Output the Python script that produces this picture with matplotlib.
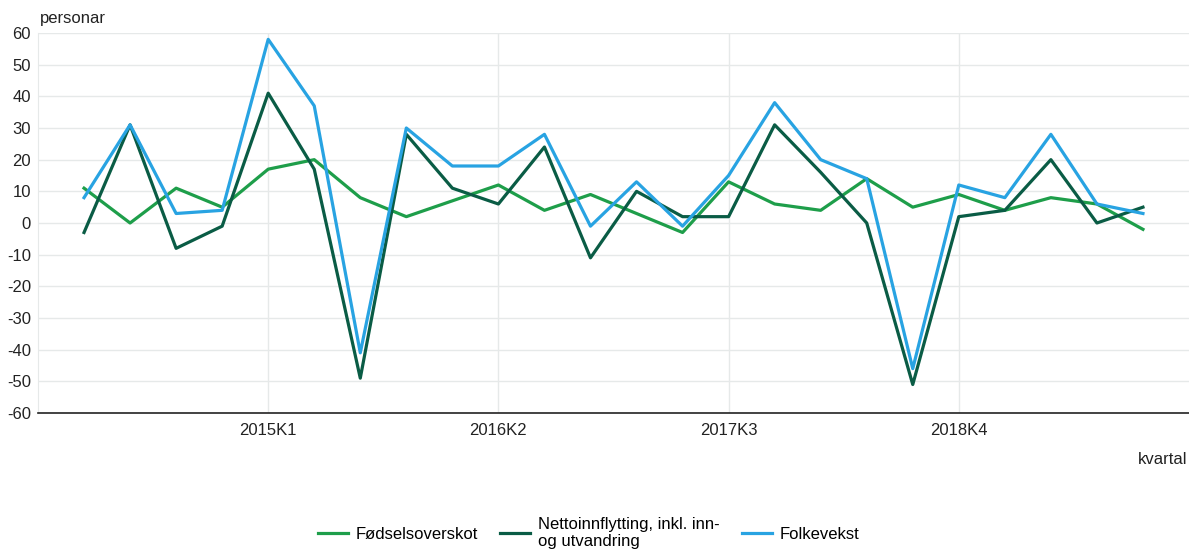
import matplotlib.pyplot as plt

plt.rcParams['font.family'] = ['Liberation Sans', 'DejaVu Sans']
plt.rcParams['axes.unicode_minus'] = False

# Kvartal 2014K1 - 2019K4
kvartal = [f"{aar}K{k}" for aar in range(2014, 2020) for k in range(1, 5)]

fodselsoverskot = [11, 0, 11, 5, 17, 20, 8, 2, 7, 12, 4, 9,
                   3, -3, 13, 6, 4, 14, 5, 9, 4, 8, 6, -2]
nettoinnflytting = [-3, 31, -8, -1, 41, 17, -49, 28, 11, 6, 24, -11,
                    10, 2, 2, 31, 16, 0, -51, 2, 4, 20, 0, 5]
folkevekst = [8, 31, 3, 4, 58, 37, -41, 30, 18, 18, 28, -1,
              13, -1, 15, 38, 20, 14, -46, 12, 8, 28, 6, 3]

vis_kvartal = ["2015K1", "2016K2", "2017K3", "2018K4"]
y_ticks = list(range(-60, 61, 10))

fig = plt.figure(figsize=(11.89, 5.51), dpi=100)
ax = fig.add_axes([38 / 1189, 138 / 551, 1 - 38 / 1189, 380 / 551])

x = list(range(len(kvartal)))
ax.plot(x, fodselsoverskot, color='#1e9e4a', linewidth=2.3, label='Fødselsoverskot')
ax.plot(x, nettoinnflytting, color='#0a5c45', linewidth=2.3,
        label='Nettoinnflytting, inkl. inn-\nog utvandring')
ax.plot(x, folkevekst, color='#28a3e2', linewidth=2.3, label='Folkevekst')

ax.set_xlim(-1, 24)
ax.set_ylim(-60, 60)
ax.set_yticks(y_ticks)
ax.set_xticks([kvartal.index(k) for k in vis_kvartal])
ax.set_xticklabels(vis_kvartal)
ax.tick_params(axis='both', length=0, labelsize=12, colors='#222222')
ax.tick_params(axis='x', pad=7)
ax.tick_params(axis='y', pad=5)

ax.grid(True, color='#e6e9e9', linewidth=1)
ax.set_axisbelow(True)
for side in ['top', 'right']:
    ax.spines[side].set_visible(False)
ax.spines['left'].set_color('#e6e9e9')
ax.spines['bottom'].set_color('#222222')
ax.spines['bottom'].set_linewidth(1.2)

fig.text(40 / 1189, 1 - 18 / 551, "personar", fontsize=12, color='#222222', va='center')
fig.text(1187 / 1189, 1 - 459 / 551, "kvartal", fontsize=12, color='#222222',
         va='center', ha='right')

fig.legend(loc='upper center', bbox_to_anchor=(0.495, 1 - 502 / 551), ncol=3,
           frameon=False, fontsize=12, handlelength=1.8, columnspacing=1.3,
           handletextpad=0.5, labelspacing=0.2)

fig.savefig('out.png', dpi=100)
